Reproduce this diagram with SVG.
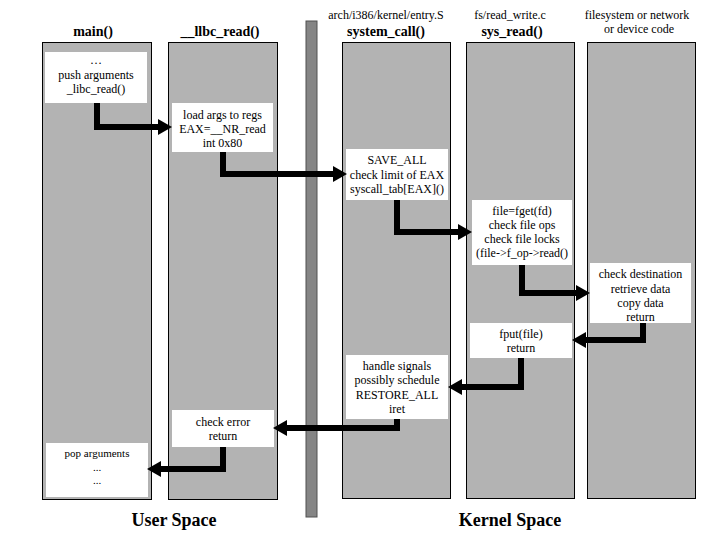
<svg xmlns="http://www.w3.org/2000/svg" width="720" height="540" viewBox="0 0 720 540">
<style>
.col{fill:#b3b3b3;stroke:#000;stroke-width:1}
.box{fill:#fff}
.t{font-family:"Liberation Serif","Times New Roman",serif;font-size:12px;fill:#000;text-anchor:middle}
.s{font-size:11px}
.h{font-family:"Liberation Serif","Times New Roman",serif;font-size:14px;font-weight:bold;fill:#000;text-anchor:middle}
.big{font-family:"Liberation Serif","Times New Roman",serif;font-size:18px;font-weight:bold;fill:#000;text-anchor:middle}
.c{fill:none;stroke:#000;stroke-width:6;stroke-linejoin:miter;marker-end:url(#ah)}
</style>
<defs>
<marker id="ah" markerUnits="userSpaceOnUse" viewBox="0 0 14 16" markerWidth="14" markerHeight="16" refX="0" refY="8" orient="auto">
<path d="M0,0 L14,8 L0,16 z" fill="#000"/>
</marker>
</defs>
<rect width="720" height="540" fill="#fff"/>

<g id="headings">
<text class="h" x="93" y="36">main()</text>
<text class="h" x="220" y="36">__llbc_read()</text>
<text class="t" x="386" y="19">arch/i386/kernel/entry.S</text>
<text class="h" x="386" y="36">system_call()</text>
<text class="t" x="510" y="19">fs/read_write.c</text>
<text class="h" x="512" y="36">sys_read()</text>
<text class="t" x="637" y="19">filesystem or network</text>
<text class="t" x="639" y="33">or device code</text>
</g>

<g id="columns">
<rect id="col-main" class="col" x="42.5" y="42.5" width="109" height="457"/>
<rect id="col-llbc" class="col" x="168.5" y="42.5" width="109" height="457"/>
<rect id="divider" x="306" y="21" width="11" height="496" fill="#858585" stroke="#505050" stroke-width="1"/>
<rect id="col-syscall" class="col" x="342.5" y="42.5" width="108" height="456"/>
<rect id="col-sysread" class="col" x="466.5" y="42.5" width="108" height="456"/>
<rect id="col-fs" class="col" x="587.5" y="42.5" width="108" height="456"/>
</g>

<g id="n-main1">
<rect class="box" x="45" y="52" width="102" height="51"/>
<text class="t" x="96" y="64">…</text>
<text class="t" x="96" y="79">push arguments</text>
<text class="t" x="96" y="93">_libc_read()</text>
</g>
<g id="n-llbc1">
<rect class="box" x="172" y="103" width="101" height="49"/>
<text class="t" x="222.5" y="119">load args to regs</text>
<text class="t" x="222.5" y="133">EAX=__NR_read</text>
<text class="t" x="222.5" y="147">int 0x80</text>
</g>
<g id="n-sys1">
<rect class="box" x="346" y="149" width="102" height="51"/>
<text class="t" x="397" y="164">SAVE_ALL</text>
<text class="t" x="397" y="179">check limit of EAX</text>
<text class="t" x="397" y="193">syscall_tab[EAX]()</text>
</g>
<g id="n-read1">
<rect class="box" x="472" y="200" width="100" height="65"/>
<text class="t" x="522" y="215">file=fget(fd)</text>
<text class="t" x="522" y="229">check file ops</text>
<text class="t" x="522" y="243">check file locks</text>
<text class="t" x="522" y="257">(file-&gt;f_op-&gt;read()</text>
</g>
<g id="n-fs">
<rect class="box" x="590" y="263" width="101" height="60"/>
<text class="t" x="640.5" y="278">check destination</text>
<text class="t" x="640.5" y="293">retrieve data</text>
<text class="t" x="640.5" y="307">copy data</text>
<text class="t" x="640.5" y="321">return</text>
</g>
<g id="n-read2">
<rect class="box" x="470" y="323" width="102" height="35"/>
<text class="t" x="521" y="338">fput(file)</text>
<text class="t" x="521" y="352">return</text>
</g>
<g id="n-sys2">
<rect class="box" x="346" y="355" width="102" height="64"/>
<text class="t" x="397" y="370">handle signals</text>
<text class="t" x="397" y="384">possibly schedule</text>
<text class="t" x="397" y="399">RESTORE_ALL</text>
<text class="t" x="397" y="413">iret</text>
</g>
<g id="n-llbc2">
<rect class="box" x="172" y="410" width="102" height="37"/>
<text class="t" x="223" y="426">check error</text>
<text class="t" x="223" y="440">return</text>
</g>
<g id="n-main2">
<rect class="box" x="46" y="443" width="102" height="54"/>
<text class="t s" x="97" y="457">pop arguments</text>
<text class="t s" x="97" y="471">...</text>
<text class="t s" x="97" y="484">...</text>
</g>

<g id="connectors">
<polyline class="c" points="97,103 97,127 158,127"/>
<polyline class="c" points="223,152 223,174 333,174"/>
<polyline class="c" points="397,200 397,232 458,232"/>
<polyline class="c" points="522,265 522,293 576,293"/>
<polyline class="c" points="643,323 643,340 586,340"/>
<polyline class="c" points="521,358 521,387 462,387"/>
<polyline class="c" points="397,419 397,428 287,428"/>
<polyline class="c" points="223,447 223,469 161,469"/>
</g>

<g id="footer">
<text class="big" x="174" y="526">User Space</text>
<text class="big" x="510" y="526">Kernel Space</text>
</g>
</svg>
